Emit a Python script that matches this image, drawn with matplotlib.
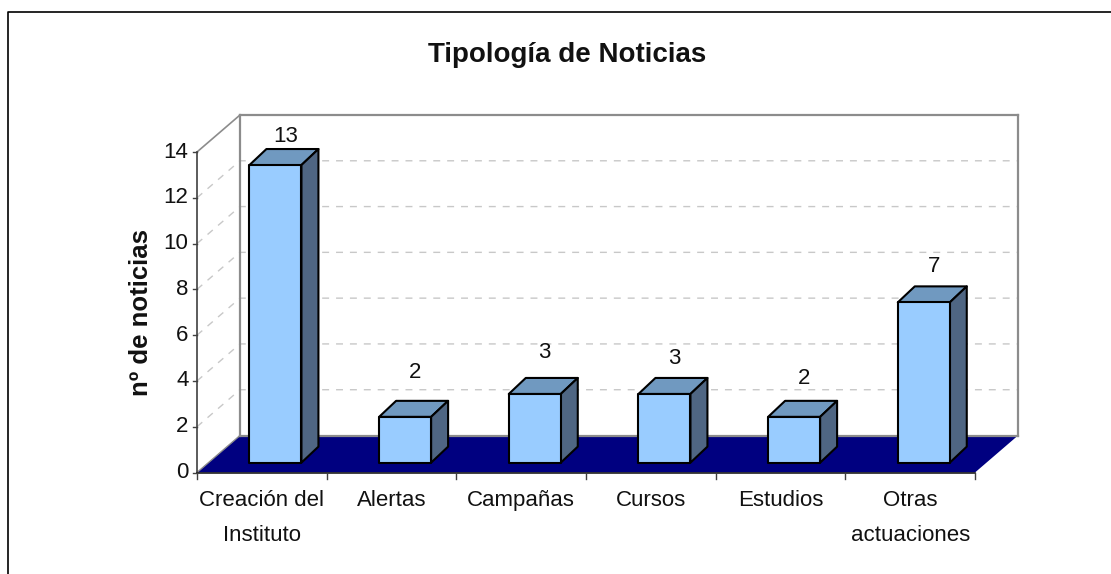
import matplotlib
matplotlib.use('Agg')
import matplotlib.pyplot as plt
from matplotlib.patches import Polygon

categories = ['Creación del\nInstituto', 'Alertas', 'Campañas', 'Cursos',
              'Estudios', 'Otras\nactuaciones']
noticias = [13, 2, 3, 3, 2, 7]
yticks = [0, 2, 4, 6, 8, 10, 12, 14]

W, H = 1111, 574
plt.rcParams['font.family'] = ['Liberation Sans', 'DejaVu Sans']

fig = plt.figure(figsize=(W / 100, H / 100), dpi=100)
# chart border, only the top and left sides are inside the picture
fig.add_artist(plt.Line2D([1, 8 / W, 8 / W], [1 - 11.5 / H, 1 - 11.5 / H, 0],
                          transform=fig.transFigure, color='black', lw=1.2))

# front plane of the fake 3d box, in pixels of the figure
left, right, bottom, top = 197, 975, 472.5, 152
ax = fig.add_axes([left / W, 1 - bottom / H, (right - left) / W, (bottom - top) / H])
ax.set_xlim(0, 6)
ax.set_ylim(0, 14)
ax.axis('off')

# depth of the box in data units
dx = 43 / ((right - left) / 6)
dy = 37 / ((bottom - top) / 14)


def poly(pts, **kw):
    p = Polygon(pts, closed=True, clip_on=False, **kw)
    ax.add_patch(p)


# back wall and floor
n = len(categories)
poly([(0, 0), (dx, dy), (n + dx, dy), (n, 0)], fc='#000080', ec='none', zorder=1)
ax.plot([0, dx], [14, 14 + dy], color='#8c8c8c', lw=1.2, clip_on=False, zorder=3)
ax.plot([dx, dx], [dy, 14 + dy], color='#8c8c8c', lw=1.6, clip_on=False, zorder=3)
ax.plot([dx, n + dx], [dy, dy], color='#8c8c8c', lw=1.6, clip_on=False, zorder=3)
ax.plot([n + dx, n + dx], [dy, 14 + dy], color='#8c8c8c', lw=1.6, clip_on=False, zorder=3)
ax.plot([dx, n + dx], [14 + dy, 14 + dy], color='#8c8c8c', lw=1.6, clip_on=False, zorder=3)
ax.plot([0, dx], [0, dy], color='#8c8c8c', lw=1, clip_on=False, zorder=2)

# gridlines on wall and side
for t in yticks[1:-1]:
    ax.plot([0, dx, n + dx], [t, t + dy, t + dy], color='#c8c8c8', lw=1,
            dashes=(5, 5), clip_on=False, zorder=2)

# axes lines and ticks
ax.plot([0, 0], [0, 14], color='#404040', lw=1.2, clip_on=False, zorder=6)
ax.plot([0, n], [0, 0], color='#202020', lw=1.2, clip_on=False, zorder=6)
for t in yticks:
    ax.plot([-0.03, 0], [t, t], color='#404040', lw=1, clip_on=False, zorder=6)
    ax.text(-0.065, t, str(t), ha='right', va='center', fontsize=16, color='#111111')
for i in range(n + 1):
    ax.plot([i, i], [0, -0.28], color='#404040', lw=1, clip_on=False, zorder=6)

# bars
bar_w = 52 / ((right - left) / 6)
fx, fy = 0.105, 0.43
ox, oy = 0.131, 0.70
label_nudge = [0.02, 0.72, 0.62, 0.36, 0.47, 0.34]
for i, v in enumerate(noticias):
    x0 = i + 0.5 - bar_w / 2 + fx
    x1 = x0 + bar_w
    y0 = fy
    y1 = fy + v
    poly([(x0, y1), (x1, y1), (x1 + ox, y1 + oy), (x0 + ox, y1 + oy)],
         fc='#7099c0', ec='black', lw=1.5, joinstyle='round', zorder=4)
    poly([(x1, y0), (x1 + ox, y0 + oy), (x1 + ox, y1 + oy), (x1, y1)],
         fc='#4f6683', ec='black', lw=1.5, joinstyle='round', zorder=4)
    poly([(x0, y0), (x1, y0), (x1, y1), (x0, y1)],
         fc='#99ccff', ec='black', lw=1.5, joinstyle='round', zorder=5)
    ax.text(i + 0.505 + fx + ox * 0.55, y1 + oy + 0.05 + label_nudge[i], str(v), ha='center', va='bottom',
            fontsize=16, color='#111111')
    ax.text(i + 0.5, -0.75, categories[i], ha='center', va='top', fontsize=16,
            color='#111111', linespacing=1.88)

fig.text(141 / W, 1 - 312 / H, 'nº de noticias', rotation=90, ha='center', va='center',
         fontsize=18.5, fontweight='bold', color='#111111')
fig.text(567 / W, 1 - 55 / H, 'Tipología de Noticias', ha='center', va='center',
         fontsize=20, fontweight='bold', color='#111111')

fig.savefig('out.png', dpi=100)
